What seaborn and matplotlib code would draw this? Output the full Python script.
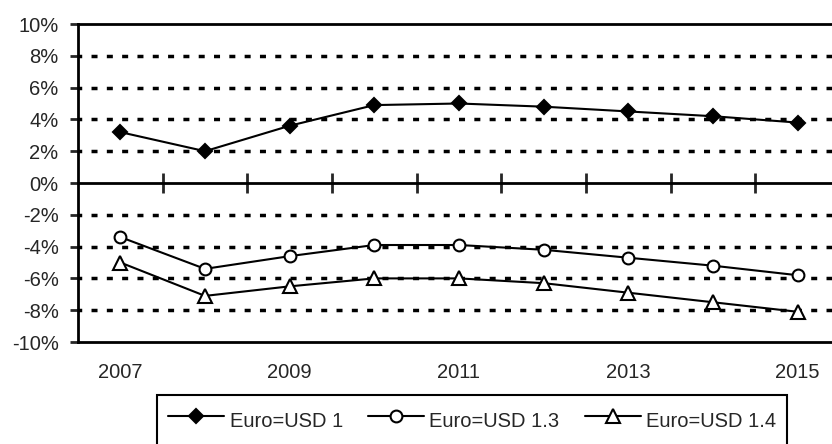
import numpy as np
import pandas as pd
import matplotlib
matplotlib.use("Agg")
import matplotlib.pyplot as plt
import seaborn as sns
from matplotlib.ticker import FuncFormatter, FixedLocator

# Data (values in %)
years = [2007, 2008, 2009, 2010, 2011, 2012, 2013, 2014, 2015]
usd_1 = [3.2, 2.0, 3.6, 4.9, 5.0, 4.8, 4.5, 4.2, 3.8]
usd_13 = [-3.4, -5.4, -4.6, -3.9, -3.9, -4.2, -4.7, -5.2, -5.8]
usd_14 = [-5.0, -7.1, -6.5, -6.0, -6.0, -6.3, -6.9, -7.5, -8.1]
series_names = ["Euro=USD 1", "Euro=USD 1.3", "Euro=USD 1.4"]
y_ticks = [-10, -8, -6, -4, -2, 0, 2, 4, 6, 8, 10]

sns.set_style("white")
plt.rcParams["font.family"] = ["Liberation Sans", "DejaVu Sans"]
plt.rcParams["font.size"] = 14.5

pos = np.arange(len(years))
df = pd.DataFrame({"pos": pos, series_names[0]: usd_1,
                   series_names[1]: usd_13, series_names[2]: usd_14})

fig = plt.figure(figsize=(8.32, 4.44), dpi=100)
ax = fig.add_axes([78 / 832, 1 - 342 / 444, (840 - 78) / 832, (342 - 24) / 444])

styles = [
    dict(marker="D", markerfacecolor="black", markersize=7.5),
    dict(marker="o", markerfacecolor="white", markersize=8.5),
    dict(marker="^", markerfacecolor="white", markersize=9.5),
]
for name, st in zip(series_names, styles):
    sns.lineplot(data=df, x="pos", y=name, ax=ax, color="black", linewidth=1.5,
                 markeredgecolor="black", markeredgewidth=1.5, label=name,
                 legend=False, zorder=3, **st)

ax.set_xlim(-0.5, len(years) - 0.5)
ax.set_ylim(-10, 10)
ax.set_xlabel("")
ax.set_ylabel("")

# y axis
ax.yaxis.set_major_locator(FixedLocator(y_ticks))
ax.yaxis.set_major_formatter(FuncFormatter(lambda v, p: f"{v:.0f}%"))
ax.tick_params(axis="y", direction="out", length=6, width=2, pad=8,
               left=True, labelsize=14.5)
ax.grid(axis="y", color="black", linewidth=2.5,
        linestyle=(0.66, (1.73, 2.68)))
ax.set_axisbelow(True)
# no dashed line at 0 and at the frame edges
for t, v in zip(ax.yaxis.get_major_ticks(), y_ticks):
    if v in (-10, 0, 10):
        t.gridline.set_visible(False)

# x labels at bottom (every other year), no tick marks
ax.set_xticks(pos[::2])
ax.set_xticklabels([str(y) for y in years[::2]])
ax.tick_params(axis="x", length=0, pad=15, labelsize=14.5)

for side in ["left", "bottom", "top"]:
    ax.spines[side].set_visible(True)
    ax.spines[side].set_color("black")
    ax.spines[side].set_linewidth(2)
ax.spines["right"].set_visible(False)

# zero line with category boundary ticks
zax = ax.secondary_xaxis(0.5)
zax.set_xticks(pos[:-1] + 0.5)
zax.set_xticklabels([])
zax.tick_params(axis="x", direction="inout", length=14, width=2)
for sp in zax.spines.values():
    sp.set_linewidth(2)
    sp.set_color("black")

handles, labels = ax.get_legend_handles_labels()
leg = fig.legend(handles, labels, loc="upper left",
                 bbox_to_anchor=(157 / 832, 1 - 395 / 444), ncol=3,
                 frameon=True, fancybox=False, framealpha=1, edgecolor="black",
                 fontsize=14.5, handlelength=2.8, handletextpad=0.25,
                 handleheight=1.8, columnspacing=1.25, borderpad=0.55,
                 borderaxespad=0)
leg.get_frame().set_linewidth(1.5)

fig.savefig("out.png", dpi=100)
